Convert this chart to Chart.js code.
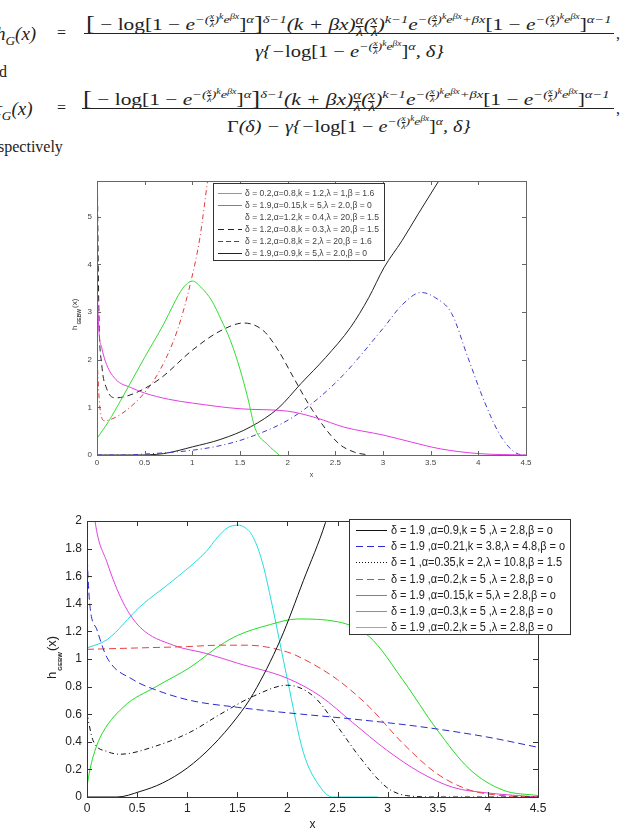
<!DOCTYPE html>
<html lang="en">
<head>
<meta charset="UTF-8" />
<title>GEBW hazard functions</title>
<script src="https://cdn.jsdelivr.net/npm/chart.js"></script>
<style>
  html, body { margin: 0; padding: 0; background: #fff; }
  body { width: 623px; height: 836px; position: relative; overflow: hidden; }
  .t { position: absolute; font-family: 'Liberation Serif', 'DejaVu Serif', serif; font-size: 16px; color: #222; white-space: nowrap; line-height: 1; transform-origin: left top; }
  .m { font-style: italic; }
  .u { font-style: normal; }
  .lhs { font-size: 19px; }
  .t sup { font-size: 68%; line-height: 0; vertical-align: 0.6em; }
  .sf { display: inline-flex; flex-direction: column; font-size: 72%; line-height: 0.95; vertical-align: middle; text-align: center; }
  .sf span:first-child { border-bottom: 1px solid #222; }
  .bar { position: absolute; height: 1px; background: #222; }
  .big { font-size: 125%; font-style: normal; }
  canvas { position: absolute; }
</style>
</head>
<body>
  <div class="t m lhs" style="left:-4px; top:24px">h<sub style="font-size:70%">G</sub>(x)</div>
  <div class="t" style="left:57px; top:25px">=</div>
  <div class="t m" id="num1" style="left:86px; top:13px"></div>
  <div class="bar" style="left:84px; top:33px; width:530px"></div>
  <div class="t m" id="den1" style="left:255px; top:40px"></div>
  <div class="t" style="left:616px; top:26px">,</div>

  <div class="t" style="left:-1px; top:64px">d</div>

  <div class="t m lhs" style="left:-5px; top:99px">τ<sub style="font-size:70%">G</sub>(x)</div>
  <div class="t" style="left:57px; top:100px">=</div>
  <div class="t m" id="num2" style="left:83px; top:88px"></div>
  <div class="bar" style="left:82px; top:108px; width:532px"></div>
  <div class="t m" id="den2" style="left:227px; top:115px"></div>
  <div class="t" style="left:616px; top:101px">,</div>

  <div class="t" style="left:-2px; top:139px">spectively</div>

  <canvas id="topChart" width="510" height="320" style="left:30px; top:170px"></canvas>
  <canvas id="bottomChart" width="560" height="331" style="left:20px; top:505px"></canvas>

<script>
  // ---------- upper figure ----------
  const topLabels = [
    'δ = 0.2,α=0.8,k = 1.2,λ = 1,β = 1.6',
    'δ = 1.9,α=0.15,k = 5,λ = 2.0,β = 0',
    'δ = 1.2,α=1.2,k = 0.4,λ = 20,β = 1.5',
    'δ = 1.2,α=0.8,k = 0.3,λ = 20,β = 1.5',
    'δ = 1.2,α=0.8,k = 2,λ = 20,β = 1.6',
    'δ = 1.9,α=0.9,k = 5,λ = 2.0,β = 0'
  ];
  const topGreenX = [0, 0.12, 0.25, 0.5, 0.7, 0.8, 0.9, 1.0, 1.1, 1.2, 1.3, 1.4, 1.5, 1.58, 1.66, 1.79, 1.91];
  const topGreenY = [0.35, 0.7, 1.15, 2.05, 2.75, 3.15, 3.5, 3.65, 3.5, 3.25, 2.85, 2.4, 1.8, 1.21, 0.55, 0.22, 0];
  const topMagentaX = [0, 0.02, 0.05, 0.1, 0.2, 0.35, 0.5, 0.75, 1.0, 1.5, 2.0, 2.3, 2.6, 3.0, 3.3, 3.6, 4.0, 4.5];
  const topMagentaY = [3.6, 2.6, 2.25, 1.9, 1.58, 1.42, 1.3, 1.17, 1.09, 0.97, 0.92, 0.78, 0.58, 0.42, 0.27, 0.13, 0.03, 0];
  const topRedX = [0, 0.03, 0.08, 0.15, 0.31, 0.52, 0.66, 0.84, 0.98, 1.08, 1.16, 1.2];
  const topRedY = [2.05, 1.0, 0.72, 0.75, 0.94, 1.36, 1.78, 2.6, 3.6, 4.57, 5.75, 6.3];
  const topBlackDashX = [0, 0.02, 0.05, 0.1, 0.2, 0.4, 0.66, 1.0, 1.29, 1.54, 1.75, 1.9, 2.06, 2.26, 2.53, 2.7, 2.85];
  const topBlackDashY = [6.5, 3.0, 1.9, 1.4, 1.2, 1.3, 1.6, 2.2, 2.6, 2.77, 2.6, 2.2, 1.63, 0.94, 0.25, 0.06, 0];
  const topBlueX = [0, 0.3, 0.5, 0.8, 1.0, 1.3, 1.61, 2.06, 2.53, 3.01, 3.2, 3.4, 3.55, 3.72, 3.89, 4.07, 4.24, 4.42, 4.5];
  const topBlueY = [0, 0, 0.02, 0.06, 0.1, 0.2, 0.38, 0.8, 1.57, 2.68, 3.15, 3.41, 3.3, 2.97, 2.05, 1.09, 0.38, 0.02, 0];
  const topBlackX = [0, 0.4, 0.7, 1.0, 1.3, 1.61, 1.9, 2.14, 2.4, 2.66, 2.85, 3.01, 3.2, 3.37, 3.6];
  const topBlackY = [0, 0, 0.03, 0.17, 0.33, 0.59, 0.98, 1.5, 2.05, 2.68, 3.3, 3.93, 4.5, 5.06, 5.8];

  // ---------- lower figure ----------
  const botLabels = [
    'δ = 1.9 ,α=0.9,k = 5 ,λ = 2.8,β = o',
    'δ = 1.9 ,α=0.21,k = 3.8,λ = 4.8,β = o',
    'δ = 1 ,α=0.35,k = 2,λ = 10.8,β = 1.5',
    'δ = 1.9 ,α=0.2,k = 5 ,λ = 2.8,β = o',
    'δ = 1.9 ,α=0.15,k = 5,λ = 2.8,β = o',
    'δ = 1.9 ,α=0.3,k = 5 ,λ = 2.8,β = o',
    'δ = 1.9 ,α=0.2,k = 5 ,λ = 2.8,β = o'
  ];
  const botBlackX = [0, 0.3, 0.53, 0.75, 1.0, 1.25, 1.5, 1.66, 1.93, 2.16, 2.38, 2.5];
  const botBlackY = [0, 0, 0.04, 0.1, 0.21, 0.37, 0.58, 0.75, 1.14, 1.57, 1.99, 2.3];
  const botBlueX = [0, 0.01, 0.03, 0.1, 0.2, 0.46, 0.69, 1.03, 1.5, 2.0, 2.65, 3.32, 3.99, 4.5];
  const botBlueY = [1.8, 1.6, 1.38, 1.21, 1.01, 0.85, 0.775, 0.7, 0.65, 0.61, 0.565, 0.51, 0.435, 0.36];
  const botDotX = [0, 0.06, 0.2, 0.33, 0.69, 1.03, 1.33, 1.66, 2.0, 2.26, 2.5, 2.72, 2.99, 3.19, 3.5, 4.5];
  const botDotY = [0.6, 0.41, 0.33, 0.31, 0.37, 0.47, 0.6, 0.73, 0.81, 0.73, 0.51, 0.29, 0.07, 0.01, 0, 0];
  const botRedX = [0, 0.5, 1.0, 1.33, 1.6, 2.0, 2.16, 2.5, 2.82, 3.15, 3.49, 3.82, 4.15, 4.5];
  const botRedY = [1.07, 1.08, 1.09, 1.1, 1.1, 1.05, 1.0, 0.85, 0.65, 0.39, 0.17, 0.05, 0.01, 0];
  const botMagentaX = [0, 0.08, 0.2, 0.36, 0.53, 0.86, 1.19, 1.5, 2.0, 2.33, 2.65, 2.99, 3.32, 3.65, 3.99, 4.5];
  const botMagentaY = [2.6, 2.0, 1.7, 1.41, 1.23, 1.1, 1.04, 0.97, 0.86, 0.73, 0.54, 0.34, 0.18, 0.07, 0.03, 0];
  const botGreenX = [0, 0.03, 0.06, 0.13, 0.36, 0.69, 1.03, 1.33, 1.5, 1.83, 2.1, 2.5, 2.82, 3.15, 3.49, 3.82, 4.15, 4.5];
  const botGreenY = [0.08, 0.2, 0.29, 0.43, 0.65, 0.8, 0.94, 1.1, 1.17, 1.25, 1.29, 1.27, 1.16, 0.85, 0.49, 0.2, 0.05, 0.01];
  const botCyanX = [0, 0.2, 0.53, 0.86, 1.19, 1.3, 1.4, 1.5, 1.58, 1.66, 1.75, 1.83, 2.0, 2.16, 2.33, 2.45, 2.9];
  const botCyanY = [1.08, 1.14, 1.38, 1.57, 1.78, 1.88, 1.95, 1.97, 1.95, 1.88, 1.7, 1.45, 0.85, 0.32, 0.07, 0, 0];

  // ---------- formulas ----------
  const fr = (a, b) => `<span class="sf"><span>${a}</span><span>${b}</span></span>`;
  const lg = '<span class="u">log</span>';
  const ex = `−(${fr('x', 'λ')})<sup>k</sup>e<sup>βx</sup>`;
  const E = `e<sup>${ex}</sup>`;
  const num = `<span class="big">[</span><span class="u"> − </span>${lg}<span class="u">[1 − </span>${E}<span class="u">]</span><sup>α</sup><span class="big">]</span><sup>δ−1</sup>(k + βx)${fr('α', 'λ')}(${fr('x', 'λ')})<sup>k−1</sup>e<sup>${ex}+βx</sup><span class="u">[1 − </span>${E}<span class="u">]</span><sup>α−1</sup>`;
  const den = `γ{−${lg}<span class="u">[1 − </span>${E}<span class="u">]</span><sup>α</sup>, δ}`;
  document.getElementById('num1').innerHTML = num;
  document.getElementById('num2').innerHTML = num;
  document.getElementById('den1').innerHTML = den;
  document.getElementById('den2').innerHTML = `<span class="u">Γ</span>(δ) − ` + den;
  function fit(id, w) {
    const el = document.getElementById(id);
    el.style.transform = `scaleX(${w / el.scrollWidth})`;
  }
  fit('num1', 526); fit('num2', 527); fit('den1', 188); fit('den2', 244);

  // ---------- chart helpers ----------
  const pts = (xs, ys) => xs.map((x, i) => ({ x: x, y: ys[i] }));

  function line(label, xs, ys, color, dash, extra) {
    return Object.assign({
      label: label,
      data: pts(xs, ys),
      borderColor: color,
      borderWidth: 1,
      borderDash: dash || [],
      pointRadius: 0,
      fill: false,
      cubicInterpolationMode: 'monotone'
    }, extra || {});
  }

  // inward ticks, box frame and axis titles like the original figures
  const frame = {
    id: 'frame',
    afterDatasetsDraw(chart, args, o) {
      const { ctx, chartArea: a, scales } = chart;
      ctx.save();
      ctx.strokeStyle = o.color;
      ctx.lineWidth = 1;
      ctx.strokeRect(Math.round(a.left) + 0.5, Math.round(a.top) + 0.5, Math.round(a.right - a.left), Math.round(a.bottom - a.top));
      ctx.beginPath();
      scales.x.ticks.forEach(t => {
        const px = Math.round(scales.x.getPixelForValue(t.value)) + 0.5;
        ctx.moveTo(px, a.bottom); ctx.lineTo(px, a.bottom - o.len);
        ctx.moveTo(px, a.top); ctx.lineTo(px, a.top + o.len);
      });
      scales.y.ticks.forEach(t => {
        const py = Math.round(scales.y.getPixelForValue(t.value)) + 0.5;
        ctx.moveTo(a.left, py); ctx.lineTo(a.left + o.len, py);
        ctx.moveTo(a.right, py); ctx.lineTo(a.right - o.len, py);
      });
      ctx.stroke();
      ctx.fillStyle = o.textColor;
      ctx.font = o.xFont;
      ctx.textAlign = 'center';
      ctx.textBaseline = 'middle';
      ctx.fillText('x', (a.left + a.right) / 2, a.bottom + o.xOff);
      ctx.translate(o.yX, (a.top + a.bottom) / 2 + o.yShift);
      ctx.rotate(-Math.PI / 2);
      ctx.textAlign = 'left';
      ctx.textBaseline = 'alphabetic';
      ctx.font = o.yFont;
      const wh = ctx.measureText('h').width;
      ctx.fillText('h', 0, 0);
      ctx.font = o.subFont;
      const ws = ctx.measureText('GEBW').width;
      ctx.fillText('GEBW', wh + 1, o.subDrop);
      ctx.font = o.yFont;
      ctx.fillText('(x)', wh + ws + 2, 0);
      ctx.restore();
    }
  };

  const boxLegend = {
    id: 'boxLegend',
    afterDatasetsDraw(chart, args, o) {
      const ctx = chart.ctx;
      const sets = chart.data.datasets;
      ctx.save();
      ctx.fillStyle = '#fff';
      ctx.fillRect(o.x, o.y, o.w, o.h);
      ctx.strokeStyle = o.border;
      ctx.lineWidth = 1;
      ctx.strokeRect(o.x + 0.5, o.y + 0.5, o.w, o.h);
      ctx.font = o.font;
      ctx.textBaseline = 'middle';
      const widest = Math.max(...sets.map(ds => ctx.measureText(ds.label).width));
      const k = Math.min(1, o.textW / widest);
      sets.forEach((ds, i) => {
        const y = Math.round(o.y + o.first + i * o.step) + 0.5;
        ctx.strokeStyle = ds.legendColor || ds.borderColor;
        ctx.setLineDash(ds.legendDash || ds.borderDash || []);
        ctx.beginPath();
        ctx.moveTo(o.x + o.s0, y);
        ctx.lineTo(o.x + o.s1, y);
        ctx.stroke();
        ctx.setLineDash([]);
        ctx.fillStyle = o.color;
        ctx.save();
        ctx.translate(o.x + o.tx, y);
        ctx.scale(k, 1);
        ctx.fillText(ds.label, 0, 0);
        ctx.restore();
      });
      ctx.restore();
    }
  };

  const tickText = v => String(+v.toFixed(2));

  function axes(cfg) {
    return {
      x: {
        type: 'linear', min: 0, max: 4.5,
        grid: { display: false, drawTicks: false },
        border: { display: true, color: cfg.frame },
        ticks: { stepSize: 0.5, includeBounds: false, color: cfg.tick, font: cfg.font, padding: cfg.xPad, maxRotation: 0, callback: tickText },
        afterFit: s => { s.height = cfg.xH; }
      },
      y: {
        min: 0, max: cfg.yMax,
        grid: { display: false, drawTicks: false },
        border: { display: true, color: cfg.frame },
        ticks: { stepSize: cfg.yStep, includeBounds: false, color: cfg.tick, font: cfg.font, padding: cfg.yPad, callback: tickText },
        afterFit: s => { s.width = cfg.yW; }
      }
    };
  }

  new Chart(document.getElementById('topChart'), {
    type: 'line',
    data: {
      datasets: [
        line(topLabels[0], topGreenX, topGreenY, '#33dd33'),
        line(topLabels[1], topMagentaX, topMagentaY, '#e23de2'),
        line(topLabels[2], topRedX, topRedY, '#e03a3a', [5, 3, 1, 3], { legendColor: 'rgba(0,0,0,0)' }),
        line(topLabels[3], topBlackDashX, topBlackDashY, '#222', [6, 4]),
        line(topLabels[4], topBlueX, topBlueY, '#3a3ad0', [5, 3, 1, 3], { legendDash: [5, 3] }),
        line(topLabels[5], topBlackX, topBlackY, '#222')
      ]
    },
    options: {
      responsive: false,
      devicePixelRatio: 1,
      animation: false,
      layout: { padding: { left: 0, right: 14, top: 11, bottom: 0 } },
      scales: axes({ frame: '#666', tick: '#444', font: { family: 'Liberation Sans', size: 8 }, xPad: 3, yPad: 5, xH: 35, yW: 67, yMax: 5.75, yStep: 1 }),
      plugins: {
        legend: { display: false },
        tooltip: { enabled: false },
        frame: { color: '#666', len: 4, textColor: '#444', xFont: '7px "Liberation Sans"', xOff: 20, yX: 47, yShift: 12, yFont: '8px "Liberation Sans"', subFont: 'bold 5px "Liberation Sans"', subDrop: 4 },
        boxLegend: { x: 183, y: 13, w: 171, h: 77, first: 10, step: 12, s0: 5, s1: 29, tx: 32, textW: 134, font: '9px "Liberation Sans"', color: '#444', border: '#333' }
      }
    },
    plugins: [frame, boxLegend]
  });

  new Chart(document.getElementById('bottomChart'), {
    type: 'line',
    data: {
      datasets: [
        line(botLabels[0], botBlackX, botBlackY, '#111'),
        line(botLabels[1], botBlueX, botBlueY, '#2a2ad0', [7, 4]),
        line(botLabels[2], botDotX, botDotY, '#111', [5, 3, 1, 3], { legendDash: [1, 2] }),
        line(botLabels[3], botRedX, botRedY, '#e84040', [7, 4]),
        line(botLabels[4], botMagentaX, botMagentaY, '#e040e0'),
        line(botLabels[5], botGreenX, botGreenY, '#22dd22'),
        line(botLabels[6], botCyanX, botCyanY, '#22dddd')
      ]
    },
    options: {
      responsive: false,
      devicePixelRatio: 1,
      animation: false,
      layout: { padding: { left: 0, right: 42, top: 16, bottom: 0 } },
      scales: axes({ frame: '#333', tick: '#222', font: { family: 'Liberation Sans', size: 12 }, xPad: 4, yPad: 5, xH: 39, yW: 67, yMax: 2, yStep: 0.2 }),
      plugins: {
        legend: { display: false },
        tooltip: { enabled: false },
        frame: { color: '#333', len: 5, textColor: '#222', xFont: '12px "Liberation Sans"', xOff: 28, yX: 36, yShift: 20, yFont: '13px "Liberation Sans"', subFont: 'bold 6px "Liberation Sans"', subDrop: 6 },
        boxLegend: { x: 329, y: 14, w: 221, h: 115, first: 11, step: 16.2, s0: 7, s1: 38, tx: 42, textW: 174, font: '12px "Liberation Sans"', color: '#222', border: '#333' }
      }
    },
    plugins: [frame, boxLegend]
  });
</script>
</body>
</html>
